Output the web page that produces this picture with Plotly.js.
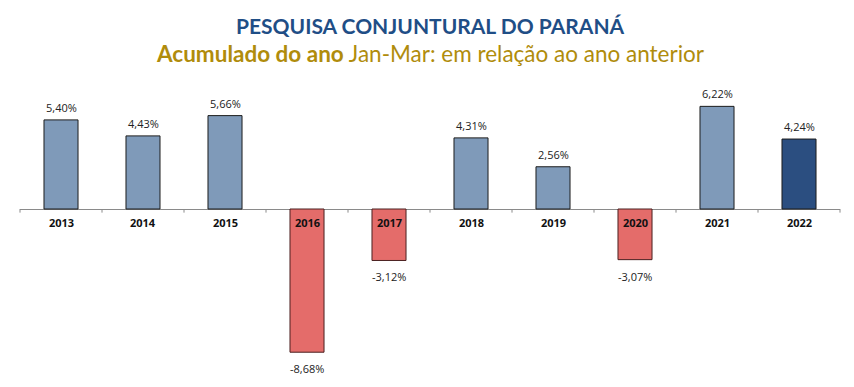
<!DOCTYPE html>
<html>
<head>
<meta charset="utf-8">
<script src="https://cdn.plot.ly/plotly-3.0.1.min.js"></script>
<style>html,body{margin:0;padding:0;background:#fff;}#chart{width:854px;height:387px;}</style>
</head>
<body>
<div id="chart"></div>
<script>
const years = ['2013','2014','2015','2016','2017','2018','2019','2020','2021','2022'];
const values = [5.40, 4.43, 5.66, -8.68, -3.12, 4.31, 2.56, -3.07, 6.22, 4.24];
const titleText = 'PESQUISA CONJUNTURAL DO PARANÁ';
const subtitleBold = 'Acumulado do ano';
const subtitleRest = ' Jan-Mar: em relação ao ano anterior';

const fmt = v => v.toFixed(2).replace('.', ',') + '%';
const colors = values.map((v, i) => i === years.length - 1 ? '#2B4E80' : (v < 0 ? '#E46C6A' : '#7F9AB9'));
const lineColors = values.map(v => v < 0 ? '#4a2020' : '#1c1c1c');

const trace = {
  type: 'bar',
  x: years.map((y, i) => i),
  y: values,
  marker: { color: colors, line: { color: lineColors, width: 1 } },
  cliponaxis: false,
  hoverinfo: 'skip'
};

const n = years.length;
const annotations = [];
years.forEach((y, i) => {
  annotations.push({
    x: i, y: 0, xref: 'x', yref: 'y',
    text: '<b>' + y + '</b>', showarrow: false,
    yanchor: 'top', yshift: -4,
    font: { family: 'Open Sans, sans-serif', size: 11, color: '#111' }
  });
  const v = values[i];
  annotations.push({
    x: i, y: v, xref: 'x', yref: 'y',
    text: fmt(v), showarrow: false,
    yanchor: v >= 0 ? 'bottom' : 'top', yshift: v >= 0 ? 3 : -7,
    font: { family: 'Open Sans, sans-serif', size: 11, color: '#222' }
  });
});
annotations.push({
  xref: 'paper', yref: 'paper', x: 0.5, y: 1, yanchor: 'bottom',
  yshift: 60, showarrow: false,
  text: '<b>' + titleText + '</b>',
  font: { family: 'Lato, sans-serif', size: 21, color: '#1F4E86' }
});
annotations.push({
  xref: 'paper', yref: 'paper', x: 0.5, y: 1, yanchor: 'bottom',
  yshift: 31, showarrow: false,
  text: '<b>' + subtitleBold + '</b>' + subtitleRest,
  font: { family: 'Lato, sans-serif', size: 22.5, color: '#B08C0C' }
});

const shapes = [];
for (let i = 0; i <= n; i++) {
  shapes.push({
    type: 'line', xref: 'paper', yref: 'y',
    x0: i / n, x1: i / n, y0: 0, y1: -0.22,
    line: { color: '#8a8a8a', width: 1 }
  });
}

const layout = {
  width: 854, height: 387,
  margin: { l: 20, r: 14, t: 100, b: 17 },
  paper_bgcolor: '#ffffff', plot_bgcolor: '#ffffff',
  showlegend: false,
  bargap: 0.585,
  xaxis: { type: 'linear', range: [-0.5, n - 0.5], showticklabels: false, showgrid: false, zeroline: false, showline: false, ticks: '' },
  yaxis: { range: [-9.758, 6.606], showticklabels: false, showgrid: false, zeroline: true, zerolinecolor: '#8a8a8a', zerolinewidth: 1, ticks: '' },
  annotations: annotations,
  shapes: shapes
};

Plotly.newPlot('chart', [trace], layout, { displayModeBar: false, staticPlot: true });
</script>
</body>
</html>
